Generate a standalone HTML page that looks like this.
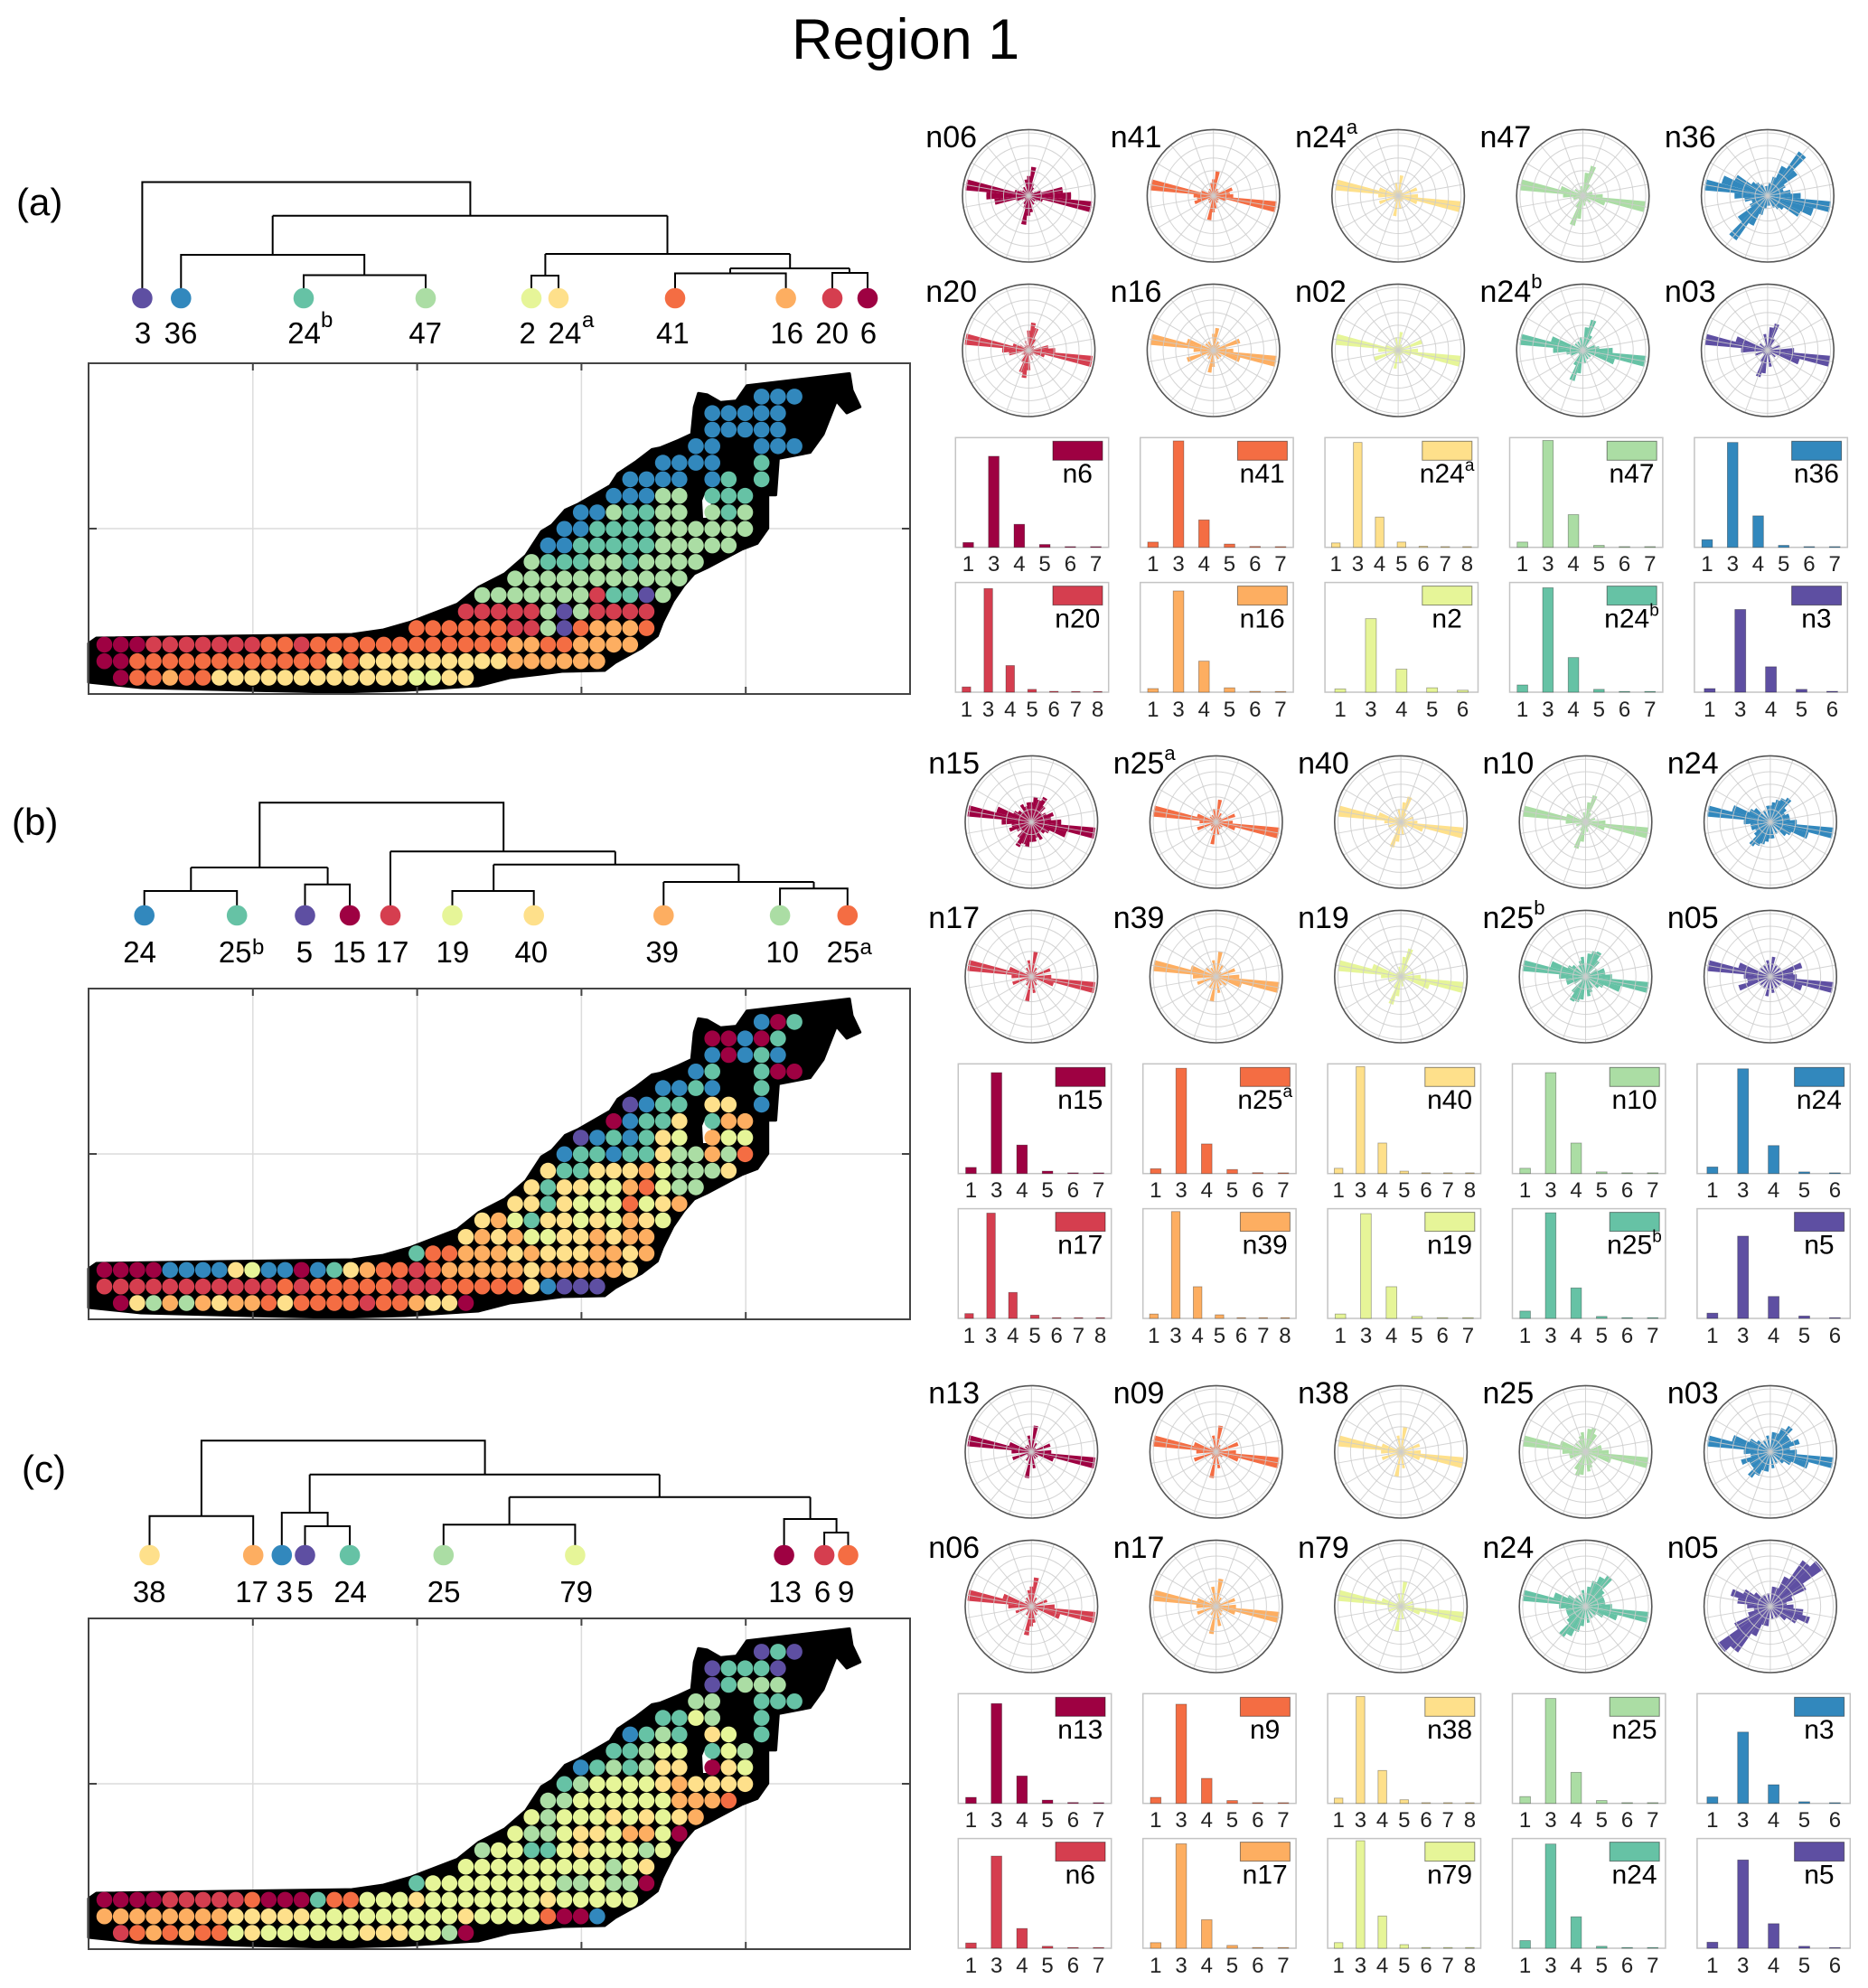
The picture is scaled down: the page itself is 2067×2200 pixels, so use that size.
<!DOCTYPE html>
<html><head><meta charset="utf-8"><style>
html,body{margin:0;padding:0;background:#fff;}
svg{display:block;font-family:"Liberation Sans",Arial,sans-serif;}
</style></head><body>
<svg id="s" xmlns="http://www.w3.org/2000/svg" width="2067" height="2200" viewBox="0 0 2067 2200">
<rect width="2067" height="2200" fill="#fff"/>
<g id="dyn"></g>

<!-- dendrograms -->
<g fill="none" stroke="#000" stroke-width="2">
<path d="M157.4 319V201.5H520.4V238.8M301.7 238.8H738.5M301.7 238.8V282M200.3 319V282H403.2V304.5M336 319V304.5H471V319M738.5 238.8V281M603.4 281H874.2M603.4 281V305M588 319V305H618V319M874.2 281V297M808 297H940M808 297V302.5M747 319V302.5H869.6V319M940 297V302M921 319V302H960V319"/>
<path d="M287.3 960V888.3H557.2V942.3M211.3 960H362.6M211.3 960V986M159.7 1002V986H262.2V1002M362.6 960V978.7M337.5 1002V978.7H387.1V1002M432 942.3H680.8M432 1002V942.3M680.8 942.3V956.7M546.2 956.7H817.4M546.2 956.7V986M500.5 1002V986H590.7V1002M817.4 956.7V976M734.3 976H900.5M734.3 1002V976M900.5 976V983.3M863.1 1002V983.3H937.8V1002"/>
<path d="M222.9 1677.7V1594.3H536.6V1631.7M165.5 1710V1677.7H280.2V1710M342.7 1631.7H729.8M342.7 1631.7V1674M311.8 1710V1674H362.6V1689M337.5 1710V1689H387.1V1710M729.8 1631.7V1656.7M563.6 1656.7H896.6M563.6 1656.7V1687.3M490.8 1710V1687.3H636.4V1710M896.6 1656.7V1681M867.6 1710V1681H925.6V1696M912.1 1710V1696H938.5V1710"/>
</g>
<g>
<circle cx="157.4" cy="330" r="11.3" fill="#5e4fa2"/><circle cx="200.3" cy="330" r="11.3" fill="#3288bd"/><circle cx="336" cy="330" r="11.3" fill="#66c2a5"/><circle cx="471" cy="330" r="11.3" fill="#abdda4"/><circle cx="588" cy="330" r="11.3" fill="#e6f598"/><circle cx="618" cy="330" r="11.3" fill="#fee08b"/><circle cx="747" cy="330" r="11.3" fill="#f46d43"/><circle cx="869.6" cy="330" r="11.3" fill="#fdae61"/><circle cx="921" cy="330" r="11.3" fill="#d53e4f"/><circle cx="960" cy="330" r="11.3" fill="#9e0142"/>
<circle cx="159.7" cy="1013" r="11.3" fill="#3288bd"/><circle cx="262.2" cy="1013" r="11.3" fill="#66c2a5"/><circle cx="337.5" cy="1013" r="11.3" fill="#5e4fa2"/><circle cx="387.1" cy="1013" r="11.3" fill="#9e0142"/><circle cx="432" cy="1013" r="11.3" fill="#d53e4f"/><circle cx="500.5" cy="1013" r="11.3" fill="#e6f598"/><circle cx="590.7" cy="1013" r="11.3" fill="#fee08b"/><circle cx="734.3" cy="1013" r="11.3" fill="#fdae61"/><circle cx="863.1" cy="1013" r="11.3" fill="#abdda4"/><circle cx="937.8" cy="1013" r="11.3" fill="#f46d43"/>
<circle cx="165.5" cy="1721" r="11.3" fill="#fee08b"/><circle cx="280.2" cy="1721" r="11.3" fill="#fdae61"/><circle cx="311.8" cy="1721" r="11.3" fill="#3288bd"/><circle cx="337.5" cy="1721" r="11.3" fill="#5e4fa2"/><circle cx="387.1" cy="1721" r="11.3" fill="#66c2a5"/><circle cx="490.8" cy="1721" r="11.3" fill="#abdda4"/><circle cx="636.4" cy="1721" r="11.3" fill="#e6f598"/><circle cx="867.6" cy="1721" r="11.3" fill="#9e0142"/><circle cx="912.1" cy="1721" r="11.3" fill="#d53e4f"/><circle cx="938.5" cy="1721" r="11.3" fill="#f46d43"/>
</g>

<!-- title & panel letters -->
<text x="876" y="65" font-size="63">Region 1</text>
<text x="18" y="238" font-size="42">(a)</text>
<text x="13" y="924" font-size="42">(b)</text>
<text x="24" y="1640" font-size="42">(c)</text>

<!-- dendrogram labels -->
<g font-size="33" text-anchor="middle">
<text x="158" y="380">3</text><text x="200" y="380">36</text><text x="336.6" y="380">24</text><text x="470.7" y="380">47</text><text x="583.7" y="380">2</text><text x="625" y="380">24</text><text x="744.4" y="380">41</text><text x="870.6" y="380">16</text><text x="920.6" y="380">20</text><text x="960.9" y="380">6</text>
<text x="154.6" y="1065">24</text><text x="260.2" y="1065">25</text><text x="336.9" y="1065">5</text><text x="386.5" y="1065">15</text><text x="434" y="1065">17</text><text x="500.9" y="1065">19</text><text x="587.8" y="1065">40</text><text x="732.7" y="1065">39</text><text x="865.7" y="1065">10</text><text x="933" y="1065">25</text>
<text x="165.2" y="1773">38</text><text x="278.6" y="1773">17</text><text x="314.7" y="1773">3</text><text x="337.5" y="1773">5</text><text x="387.7" y="1773">24</text><text x="491.1" y="1773">25</text><text x="637.7" y="1773">79</text><text x="868.6" y="1773">13</text><text x="910.1" y="1773">6</text><text x="936.2" y="1773">9</text>
</g>
<g font-size="24">
<text x="355" y="362">b</text><text x="644" y="362">a</text>
<text x="279" y="1056">b</text><text x="951.5" y="1056">a</text>
</g>

<!-- rose labels -->
<g font-size="34">
<text x="1024.3" y="163.2">n06</text><text x="1228.7" y="163.2">n41</text><text x="1433.1" y="163.2">n24<tspan dy="-15" font-size="22">a</tspan></text><text x="1637.5" y="163.2">n47</text><text x="1841.9" y="163.2">n36</text>
<text x="1024.3" y="334.2">n20</text><text x="1228.7" y="334.2">n16</text><text x="1433.1" y="334.2">n02</text><text x="1637.5" y="334.2">n24<tspan dy="-15" font-size="22">b</tspan></text><text x="1841.9" y="334.2">n03</text>
<text x="1027.3" y="856.2">n15</text><text x="1231.7" y="856.2">n25<tspan dy="-15" font-size="22">a</tspan></text><text x="1436.1" y="856.2">n40</text><text x="1640.5" y="856.2">n10</text><text x="1844.9" y="856.2">n24</text>
<text x="1027.3" y="1027.2">n17</text><text x="1231.7" y="1027.2">n39</text><text x="1436.1" y="1027.2">n19</text><text x="1640.5" y="1027.2">n25<tspan dy="-15" font-size="22">b</tspan></text><text x="1844.9" y="1027.2">n05</text>
<text x="1027.3" y="1553.2">n13</text><text x="1231.7" y="1553.2">n09</text><text x="1436.1" y="1553.2">n38</text><text x="1640.5" y="1553.2">n25</text><text x="1844.9" y="1553.2">n03</text>
<text x="1027.3" y="1724.2">n06</text><text x="1231.7" y="1724.2">n17</text><text x="1436.1" y="1724.2">n79</text><text x="1640.5" y="1724.2">n24</text><text x="1844.9" y="1724.2">n05</text>
</g>

<!-- legend labels -->
<g font-size="30" text-anchor="middle">
<text x="1192.3" y="534">n6</text><text x="1396.7" y="534">n41</text><text x="1601.1" y="534">n24<tspan dy="-13" font-size="19">a</tspan></text><text x="1805.5" y="534">n47</text><text x="2009.9" y="534">n36</text>
<text x="1192.3" y="694.3">n20</text><text x="1396.7" y="694.3">n16</text><text x="1601.1" y="694.3">n2</text><text x="1805.5" y="694.3">n24<tspan dy="-13" font-size="19">b</tspan></text><text x="2009.9" y="694.3">n3</text>
<text x="1195.3" y="1227">n15</text><text x="1399.7" y="1227">n25<tspan dy="-13" font-size="19">a</tspan></text><text x="1604.1" y="1227">n40</text><text x="1808.5" y="1227">n10</text><text x="2012.9" y="1227">n24</text>
<text x="1195.3" y="1387.3">n17</text><text x="1399.7" y="1387.3">n39</text><text x="1604.1" y="1387.3">n19</text><text x="1808.5" y="1387.3">n25<tspan dy="-13" font-size="19">b</tspan></text><text x="2012.9" y="1387.3">n5</text>
<text x="1195.3" y="1924">n13</text><text x="1399.7" y="1924">n9</text><text x="1604.1" y="1924">n38</text><text x="1808.5" y="1924">n25</text><text x="2012.9" y="1924">n3</text>
<text x="1195.3" y="2084.3">n6</text><text x="1399.7" y="2084.3">n17</text><text x="1604.1" y="2084.3">n79</text><text x="1808.5" y="2084.3">n24</text><text x="2012.9" y="2084.3">n5</text>
</g>

<!-- bar tick labels -->
<g font-size="24" text-anchor="middle" fill="#222">
<g transform="translate(1057.3,632)"><text x="14.1 42.4 70.6 98.8 127.1 155.3" y="0">134567</text></g>
<g transform="translate(1261.7,632)"><text x="14.1 42.4 70.6 98.8 127.1 155.3" y="0">134567</text></g>
<g transform="translate(1466.1,632)"><text x="12.1 36.3 60.5 84.7 108.9 133.1 157.3" y="0">1345678</text></g>
<g transform="translate(1670.5,632)"><text x="14.1 42.4 70.6 98.8 127.1 155.3" y="0">134567</text></g>
<g transform="translate(1874.9,632)"><text x="14.1 42.4 70.6 98.8 127.1 155.3" y="0">134567</text></g>
<g transform="translate(1057.3,793)"><text x="12.1 36.3 60.5 84.7 108.9 133.1 157.3" y="0">1345678</text></g>
<g transform="translate(1261.7,793)"><text x="14.1 42.4 70.6 98.8 127.1 155.3" y="0">134567</text></g>
<g transform="translate(1466.1,793)"><text x="16.9 50.8 84.7 118.6 152.5" y="0">13456</text></g>
<g transform="translate(1670.5,793)"><text x="14.1 42.4 70.6 98.8 127.1 155.3" y="0">134567</text></g>
<g transform="translate(1874.9,793)"><text x="16.9 50.8 84.7 118.6 152.5" y="0">13456</text></g>

<g transform="translate(1060.3,1325)"><text x="14.1 42.4 70.6 98.8 127.1 155.3" y="0">134567</text></g>
<g transform="translate(1264.7,1325)"><text x="14.1 42.4 70.6 98.8 127.1 155.3" y="0">134567</text></g>
<g transform="translate(1469.1,1325)"><text x="12.1 36.3 60.5 84.7 108.9 133.1 157.3" y="0">1345678</text></g>
<g transform="translate(1673.5,1325)"><text x="14.1 42.4 70.6 98.8 127.1 155.3" y="0">134567</text></g>
<g transform="translate(1877.9,1325)"><text x="16.9 50.8 84.7 118.6 152.5" y="0">13456</text></g>
<g transform="translate(1060.3,1486)"><text x="12.1 36.3 60.5 84.7 108.9 133.1 157.3" y="0">1345678</text></g>
<g transform="translate(1264.7,1486)"><text x="12.1 36.3 60.5 84.7 108.9 133.1 157.3" y="0">1345678</text></g>
<g transform="translate(1469.1,1486)"><text x="14.1 42.4 70.6 98.8 127.1 155.3" y="0">134567</text></g>
<g transform="translate(1673.5,1486)"><text x="14.1 42.4 70.6 98.8 127.1 155.3" y="0">134567</text></g>
<g transform="translate(1877.9,1486)"><text x="16.9 50.8 84.7 118.6 152.5" y="0">13456</text></g>

<g transform="translate(1060.3,2022)"><text x="14.1 42.4 70.6 98.8 127.1 155.3" y="0">134567</text></g>
<g transform="translate(1264.7,2022)"><text x="14.1 42.4 70.6 98.8 127.1 155.3" y="0">134567</text></g>
<g transform="translate(1469.1,2022)"><text x="12.1 36.3 60.5 84.7 108.9 133.1 157.3" y="0">1345678</text></g>
<g transform="translate(1673.5,2022)"><text x="14.1 42.4 70.6 98.8 127.1 155.3" y="0">134567</text></g>
<g transform="translate(1877.9,2022)"><text x="16.9 50.8 84.7 118.6 152.5" y="0">13456</text></g>
<g transform="translate(1060.3,2183)"><text x="14.1 42.4 70.6 98.8 127.1 155.3" y="0">134567</text></g>
<g transform="translate(1264.7,2183)"><text x="14.1 42.4 70.6 98.8 127.1 155.3" y="0">134567</text></g>
<g transform="translate(1469.1,2183)"><text x="12.1 36.3 60.5 84.7 108.9 133.1 157.3" y="0">1345678</text></g>
<g transform="translate(1673.5,2183)"><text x="14.1 42.4 70.6 98.8 127.1 155.3" y="0">134567</text></g>
<g transform="translate(1877.9,2183)"><text x="16.9 50.8 84.7 118.6 152.5" y="0">13456</text></g>
</g>
</svg>
<script>
(function(){
var NS='http://www.w3.org/2000/svg';
var D=document.getElementById('dyn');
function el(t,a,p){var e=document.createElementNS(NS,t);for(var k in a)e.setAttribute(k,a[k]);(p||D).appendChild(e);return e;}
var C={M:'#9e0142',R:'#d53e4f',O:'#f46d43',L:'#fdae61',Y:'#fee08b',G:'#e6f598',P:'#abdda4',T:'#66c2a5',B:'#3288bd',V:'#5e4fa2'};
function rle(s){return s.replace(/(\d*)(\D)/g,function(m,n,c){return c.repeat(n?+n:1);});}
var LAND="0,353 0,310 8.7,304 291.4,300 326.3,295 355.5,286.6 408,266.5 431.2,248 460.4,233 483.7,212.8 501.2,186 512.8,179 527.4,162.4 542,155.7 577,135.6 585.7,122.2 606,108.7 623.5,95.3 632.3,93.6 652.7,85.2 667.2,78.5 670.2,48.3 674.8,33.2 684.7,34.9 699.3,43.3 716.8,41.6 728.4,24.8 842,11.4 845,29.9 853.7,48.3 839,55 827.5,41.6 813,78.5 798.4,98.7 763.4,105.4 760.5,145.7 751.7,145.7 751.7,182.6 740,199.3 722.6,206 684.7,226.2 670,233 658.5,246.3 646.9,263.1 635.2,286.6 629.4,301.7 612,315 583,331 571,340 524,341 501,344 466,348 431,357 350,362 274,364 175,362 58,359";
var INLET="683,142 689,147 688,171 680,171 679,152";
function map(y0,rows){
 var g=el('g',{transform:'translate(98,'+y0+')'});
 var gx=[181.8,363.6,545.4,727.2];
 gx.forEach(function(x){el('line',{x1:x,y1:0,x2:x,y2:366,stroke:'#dcdcdc','stroke-width':1.5},g);});
 el('line',{x1:0,y1:183,x2:909,y2:183,stroke:'#dcdcdc','stroke-width':1.5},g);
 el('polygon',{points:LAND,fill:'#000',stroke:'#000','stroke-width':3,'stroke-linejoin':'round'},g);
 el('polygon',{points:INLET,fill:'#fff'},g);
 rows.forEach(function(r,ri){var s=r[0],str=rle(r[1]);for(var j=0;j<str.length;j++){var ch=str[j];if(ch==='.')continue;el('circle',{cx:(17.5+18.18*(s+j)).toFixed(1),cy:(348-18.3*ri).toFixed(1),r:8.8,fill:C[ch]},g);}});
 el('rect',{x:0,y:0,width:909,height:366,fill:'none',stroke:'#444','stroke-width':2},g);
 gx.forEach(function(x){el('line',{x1:x,y1:0,x2:x,y2:8,stroke:'#444','stroke-width':2},g);el('line',{x1:x,y1:366,x2:x,y2:358,stroke:'#444','stroke-width':2},g);});
 el('line',{x1:0,y1:183,x2:9,y2:183,stroke:'#444','stroke-width':2},g);
 el('line',{x1:909,y1:183,x2:900,y2:183,stroke:'#444','stroke-width':2},g);
}
var MA=[[1,"M2OL2O12Y2G2Y"],[0,"2M12OYO9Y6L"],[0,"3M7R2OR12O2L2O4L"],[19,"6O2RPVO3LO"],[22,"5RPVP4R"],[23,"7PR2TVP"],[25,"11P"],[26,"P3T2PT4P"],[27,"2B5T5P"],[28,"2B4T6P"],[29,"2BP2T2P.PTP"],[31,"3B2P.3T"],[32,"4B.BT.T"],[34,"4B2.T"],[36,"2B2.3B"],[37,"5B"],[37,"5B"],[40,"3B"]];
var MB=[[1,"MYPLPLY2LOY4OR2OL2YM"],[0,"11ROR5O3R5OYB3V"],[0,"4M4BYG2BMBTYL2ORO5LY5LY"],[19,"T2O3LYL3Y2LYL"],[22,"YLYL2G2YLY2L"],[23,"YLGT2YGYGLYG"],[25,"2YTY3GOGYL"],[26,"YT2Y2GLOG2P"],[27,"Y2T3YLG3PY"],[28,"B2TB2TY2PLPO"],[29,"VBTBTYG.L2G"],[31,"MB2TY.T2L"],[32,"VB2T.2Y.B"],[34,"2BTB2.T"],[36,"BT2.T2M"],[37,"BMBTB"],[37,"2MBMT"],[40,"BMT"]];
var MC=[[1,"ROLOL2OGY6G3Y2GPM"],[0,"8L5Y9GY4GO2MB"],[0,"4M5RO3MT2O3GY7GY5G"],[19,"T8G2PG2PM"],[22,"9GPGY"],[23,"P2G2TGY3GPG"],[25,"G2PG2YG2LGM"],[26,"GP3GYGYGYL"],[27,"2P6G3LO"],[28,"TP4GYL4Y"],[29,"BTPTP2Y.MYG"],[31,"2TP2G.TGP"],[32,"BTPT.YG.T"],[34,"2TGP2.T"],[36,"2P2.3T"],[37,"VT3P"],[37,"V3TV"],[40,"VTV"]];
map(402,MA);map(1094,MB);map(1791,MC);

function rose(cx,cy,col,bins){
 var R=73.3,g=el('g',{transform:'translate('+cx+','+cy+')'});
 for(var a=0;a<180;a+=10){var l=(bins[a]!==undefined?bins[a]:0.08)*R;
  [0,180].forEach(function(off){var a1=(a+off-5)*Math.PI/180,a2=(a+off+5)*Math.PI/180;
   el('path',{d:'M0,0L'+(l*Math.cos(a1)).toFixed(2)+','+(-l*Math.sin(a1)).toFixed(2)+'A'+l.toFixed(2)+','+l.toFixed(2)+' 0 0 0 '+(l*Math.cos(a2)).toFixed(2)+','+(-l*Math.sin(a2)).toFixed(2)+'Z',fill:col},g);});}
 for(var k=1;k<=5;k++)el('circle',{cx:0,cy:0,r:(0.19*k*R).toFixed(2),fill:'none',stroke:'#cccccc','stroke-width':1,'stroke-opacity':0.85},g);
 for(var b=10;b<180;b+=20){var t=b*Math.PI/180;el('line',{x1:(R*Math.cos(t)).toFixed(2),y1:(-R*Math.sin(t)).toFixed(2),x2:(-R*Math.cos(t)).toFixed(2),y2:(R*Math.sin(t)).toFixed(2),stroke:'#cccccc','stroke-width':1,'stroke-opacity':0.85},g);}
 el('circle',{cx:0,cy:0,r:R,fill:'none',stroke:'#555','stroke-width':1.6},g);
}
var RO=[
[[{170:.96,0:.64,10:.52,160:.22,80:.44,90:.3,100:.25,70:.2,60:.14,120:.15,140:.12,30:.12,150:.15,20:.2},
  {170:.96,160:.2,0:.3,20:.3,10:.25,80:.37,100:.2,90:.25,60:.12,120:.12,140:.1,40:.1},
  {170:.95,160:.3,0:.3,20:.3,80:.31,100:.2,60:.1,120:.1,140:.1},
  {170:.95,70:.47,160:.35,0:.3,10:.15,20:.15,80:.35,100:.15,60:.2,120:.1,140:.15},
  {170:.96,160:.72,150:.55,140:.3,50:.82,40:.55,60:.5,30:.3,70:.3,0:.5,10:.35,80:.2,90:.15,100:.15,120:.2,130:.25,20:.25}],
 [{170:.97,0:.4,10:.3,160:.25,80:.42,70:.35,90:.3,60:.2,110:.15,130:.1,30:.12,40:.1,150:.15},
  {170:.96,160:.42,20:.42,80:.34,90:.25,0:.3,10:.2,60:.15,120:.15,140:.15,40:.12},
  {170:.95,20:.38,0:.3,160:.2,80:.28,100:.2,60:.1},
  {170:.96,160:.5,0:.45,70:.48,80:.35,60:.25,100:.2,20:.2,10:.25,140:.15,120:.15},
  {170:.95,160:.5,0:.4,70:.42,80:.35,100:.25,60:.2,20:.2,140:.15}]],
[[{170:.97,160:.55,0:.45,10:.3,20:.35,30:.25,40:.2,50:.3,60:.42,70:.35,80:.38,90:.3,100:.3,110:.25,120:.3,130:.2,140:.25,150:.3},
  {170:.96,160:.3,0:.25,20:.3,80:.34,100:.2,60:.15,120:.12,140:.12,40:.1},
  {170:.95,160:.35,0:.25,70:.4,80:.3,100:.2,20:.2,60:.15,140:.12},
  {170:.95,160:.3,0:.3,70:.42,80:.3,100:.15,20:.15,60:.15},
  {170:.96,160:.6,0:.4,50:.45,60:.4,70:.35,80:.3,40:.3,30:.25,20:.3,10:.3,100:.25,120:.2,140:.3,150:.35,90:.25}],
 [{170:.97,160:.35,0:.3,20:.3,80:.38,100:.25,60:.15,120:.15,140:.1,40:.1},
  {170:.96,160:.4,0:.35,20:.3,80:.38,100:.25,60:.2,120:.15,140:.2,40:.1},
  {170:.95,160:.45,0:.3,70:.44,80:.3,100:.15,20:.2,60:.2},
  {170:.96,160:.55,0:.4,60:.42,70:.4,80:.35,50:.3,100:.3,110:.25,120:.2,140:.25,20:.3,10:.3,30:.2,150:.3},
  {170:.96,160:.5,20:.5,0:.4,10:.35,80:.3,100:.25,60:.2,120:.2,140:.2,40:.2}]],
[[{170:.97,160:.35,0:.3,20:.3,80:.4,100:.25,60:.15,120:.12,140:.12},
  {170:.96,160:.35,0:.3,20:.35,80:.4,100:.25,60:.12,140:.12},
  {170:.95,160:.3,0:.3,20:.3,80:.38,100:.25,60:.1},
  {170:.95,160:.4,0:.35,70:.38,80:.35,100:.3,110:.25,60:.3,20:.25,10:.25,140:.2,120:.2},
  {170:.96,160:.6,150:.35,0:.4,50:.48,60:.4,20:.46,30:.35,40:.35,10:.3,70:.3,80:.3,100:.25,120:.2,140:.25}],
 [{170:.97,160:.45,0:.35,20:.25,80:.44,90:.3,100:.25,60:.15,120:.15,140:.12},
  {170:.96,160:.3,0:.3,20:.3,80:.42,100:.3,60:.15,120:.15,140:.12},
  {170:.96,160:.3,0:.2,20:.2,80:.38,100:.2,60:.1},
  {170:.96,160:.5,0:.4,50:.57,60:.5,70:.4,40:.35,80:.3,100:.25,30:.3,20:.3,10:.3,140:.2,150:.3,120:.2},
  {40:.97,50:.85,30:.6,60:.5,160:.62,170:.5,150:.45,0:.35,140:.3,20:.35,10:.25,70:.3,80:.3,100:.2,120:.2,130:.2}]]
];
var BA=[
[[[.044,.83,.21,.026,.006,.003],[.048,.97,.25,.03,.008,.004],[.04,.956,.276,.048,.01,.005,.005],[.048,.974,.298,.018,.006,.004],[.07,.956,.287,.018,.005,.004]],
 [[.048,.945,.243,.026,.008,.004,.004],[.033,.923,.283,.04,.008,.004],[.03,.67,.21,.04,.018],[.066,.952,.316,.026,.006,.005],[.033,.754,.232,.026,.008]]],
[[[.056,.92,.26,.022,.006,.004],[.044,.96,.27,.037,.008,.004],[.048,.975,.278,.022,.006,.005,.004],[.048,.92,.278,.015,.005,.004],[.06,.955,.255,.015,.005]],
 [[.044,.96,.237,.03,.006,.004,.004],[.04,.974,.289,.033,.006,.005,.004],[.04,.955,.289,.018,.005,.004],[.067,.963,.278,.018,.005,.004],[.048,.75,.2,.022,.005]]],
[[[.055,.91,.25,.03,.008,.004],[.055,.904,.228,.026,.006,.004],[.048,.974,.3,.033,.006,.005,.004],[.062,.956,.283,.026,.005,.004],[.059,.65,.17,.015,.005]],
 [[.048,.84,.18,.018,.006,.004],[.051,.952,.26,.026,.006,.004],[.051,.98,.294,.033,.006,.005,.004],[.07,.95,.287,.018,.005,.004],[.055,.805,.224,.018,.005]]]
];
var BW={5:12,6:11.7,7:9.5};
function bars(L,T,col,vals){
 var W=169.4,H=121.4,n=vals.length,s=W/n,bw=BW[n];
 el('rect',{x:L,y:T,width:W,height:H,fill:'#fff',stroke:'#c4c4c4','stroke-width':1.5});
 vals.forEach(function(v,k){var h=Math.max(v*H,0.8);el('rect',{x:(L+(k+.5)*s-bw/2).toFixed(2),y:(T+H-h).toFixed(2),width:bw,height:h.toFixed(2),fill:col,stroke:'rgba(0,0,0,0.35)','stroke-width':0.8});});
 el('rect',{x:L+107.7,y:T+4,width:55,height:21,fill:col,stroke:'rgba(0,0,0,0.45)','stroke-width':1});
}
var c1=['M','O','Y','P','B'],c2=['R','L','G','T','V'],PX=[0,3,3],PY=[0,693,1390];
for(var p=0;p<3;p++){for(var k=0;k<5;k++){
 var cx=1138.3+204.4*k+PX[p],L=1057.3+204.4*k+PX[p];
 rose(cx,216.7+PY[p],C[c1[k]],RO[p][0][k]);
 rose(cx,387.7+PY[p],C[c2[k]],RO[p][1][k]);
 bars(L,484.3+PY[p],C[c1[k]],BA[p][0][k]);
 bars(L,644.6+PY[p],C[c2[k]],BA[p][1][k]);
}}
})();
</script>
</body></html>
